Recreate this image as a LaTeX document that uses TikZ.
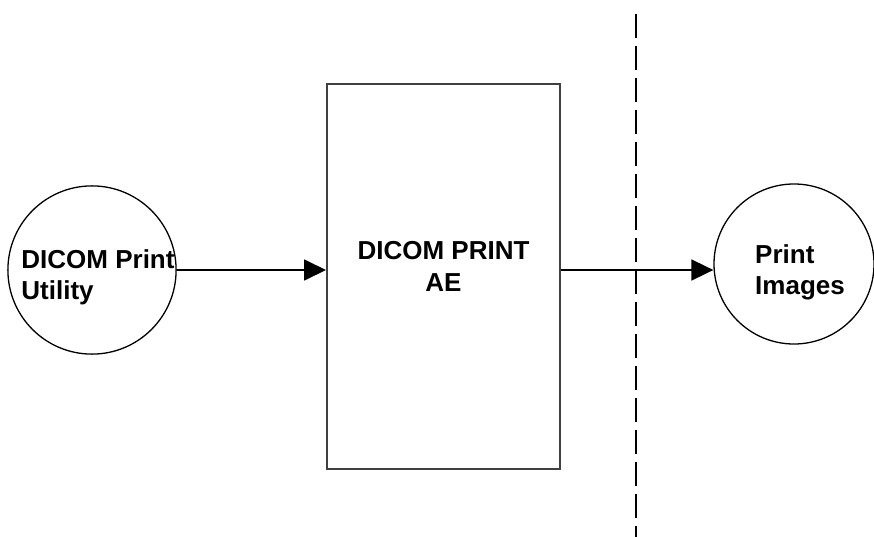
\documentclass[tikz,border=0pt]{standalone}
\usepackage{fontspec}
\setmainfont{Liberation Sans}
\usetikzlibrary{arrows.meta}
\tikzstyle{proc} = [circle, draw=black, line width=1.3pt, minimum size=164pt, inner sep=0pt, align=left, font=\bfseries\fontsize{26}{31}\selectfont]
\tikzstyle{aebox} = [rectangle, draw=black!75, line width=2pt, minimum width=233pt, minimum height=385pt, align=center, font=\bfseries\fontsize{26}{32}\selectfont]

\begin{document}
\begin{tikzpicture}[x=1pt, y=-1pt, >={Triangle[length=22pt, width=21pt]}]
	\useasboundingbox (0,0) rectangle (874,537);
	\node[proc] (util) at (92,270) {\rule{0pt}{34pt}\hspace*{6pt}DICOM Print\hspace*{-6pt}\\\hspace*{6pt}Utility}; 
	\node[aebox] at ([xshift=351.5pt, yshift=-6.5pt]util) (ae) {DICOM PRINT\\AE\rule[-20pt]{0pt}{20pt}}; 
	\node[proc, minimum size=160pt] at ([xshift=350.5pt, yshift=12.5pt]ae) (prnt) {\rule{0pt}{36pt}\hspace*{12pt}Print\\\hspace*{12pt}Images}; 
	\coordinate (cuttop) at (636,14); 
	\coordinate (cutbot) at (636,537); 

	\draw[line width=2pt, dash pattern=on 24pt off 8pt] (cuttop) -- (cutbot); 
	\draw[->, line width=1.8pt] (util.east) -- (util.east -| ae.west); 
	\draw[->, line width=1.8pt] (util.east -| ae.east) -- (util.east -| prnt.west); 
\end{tikzpicture}
\end{document}
